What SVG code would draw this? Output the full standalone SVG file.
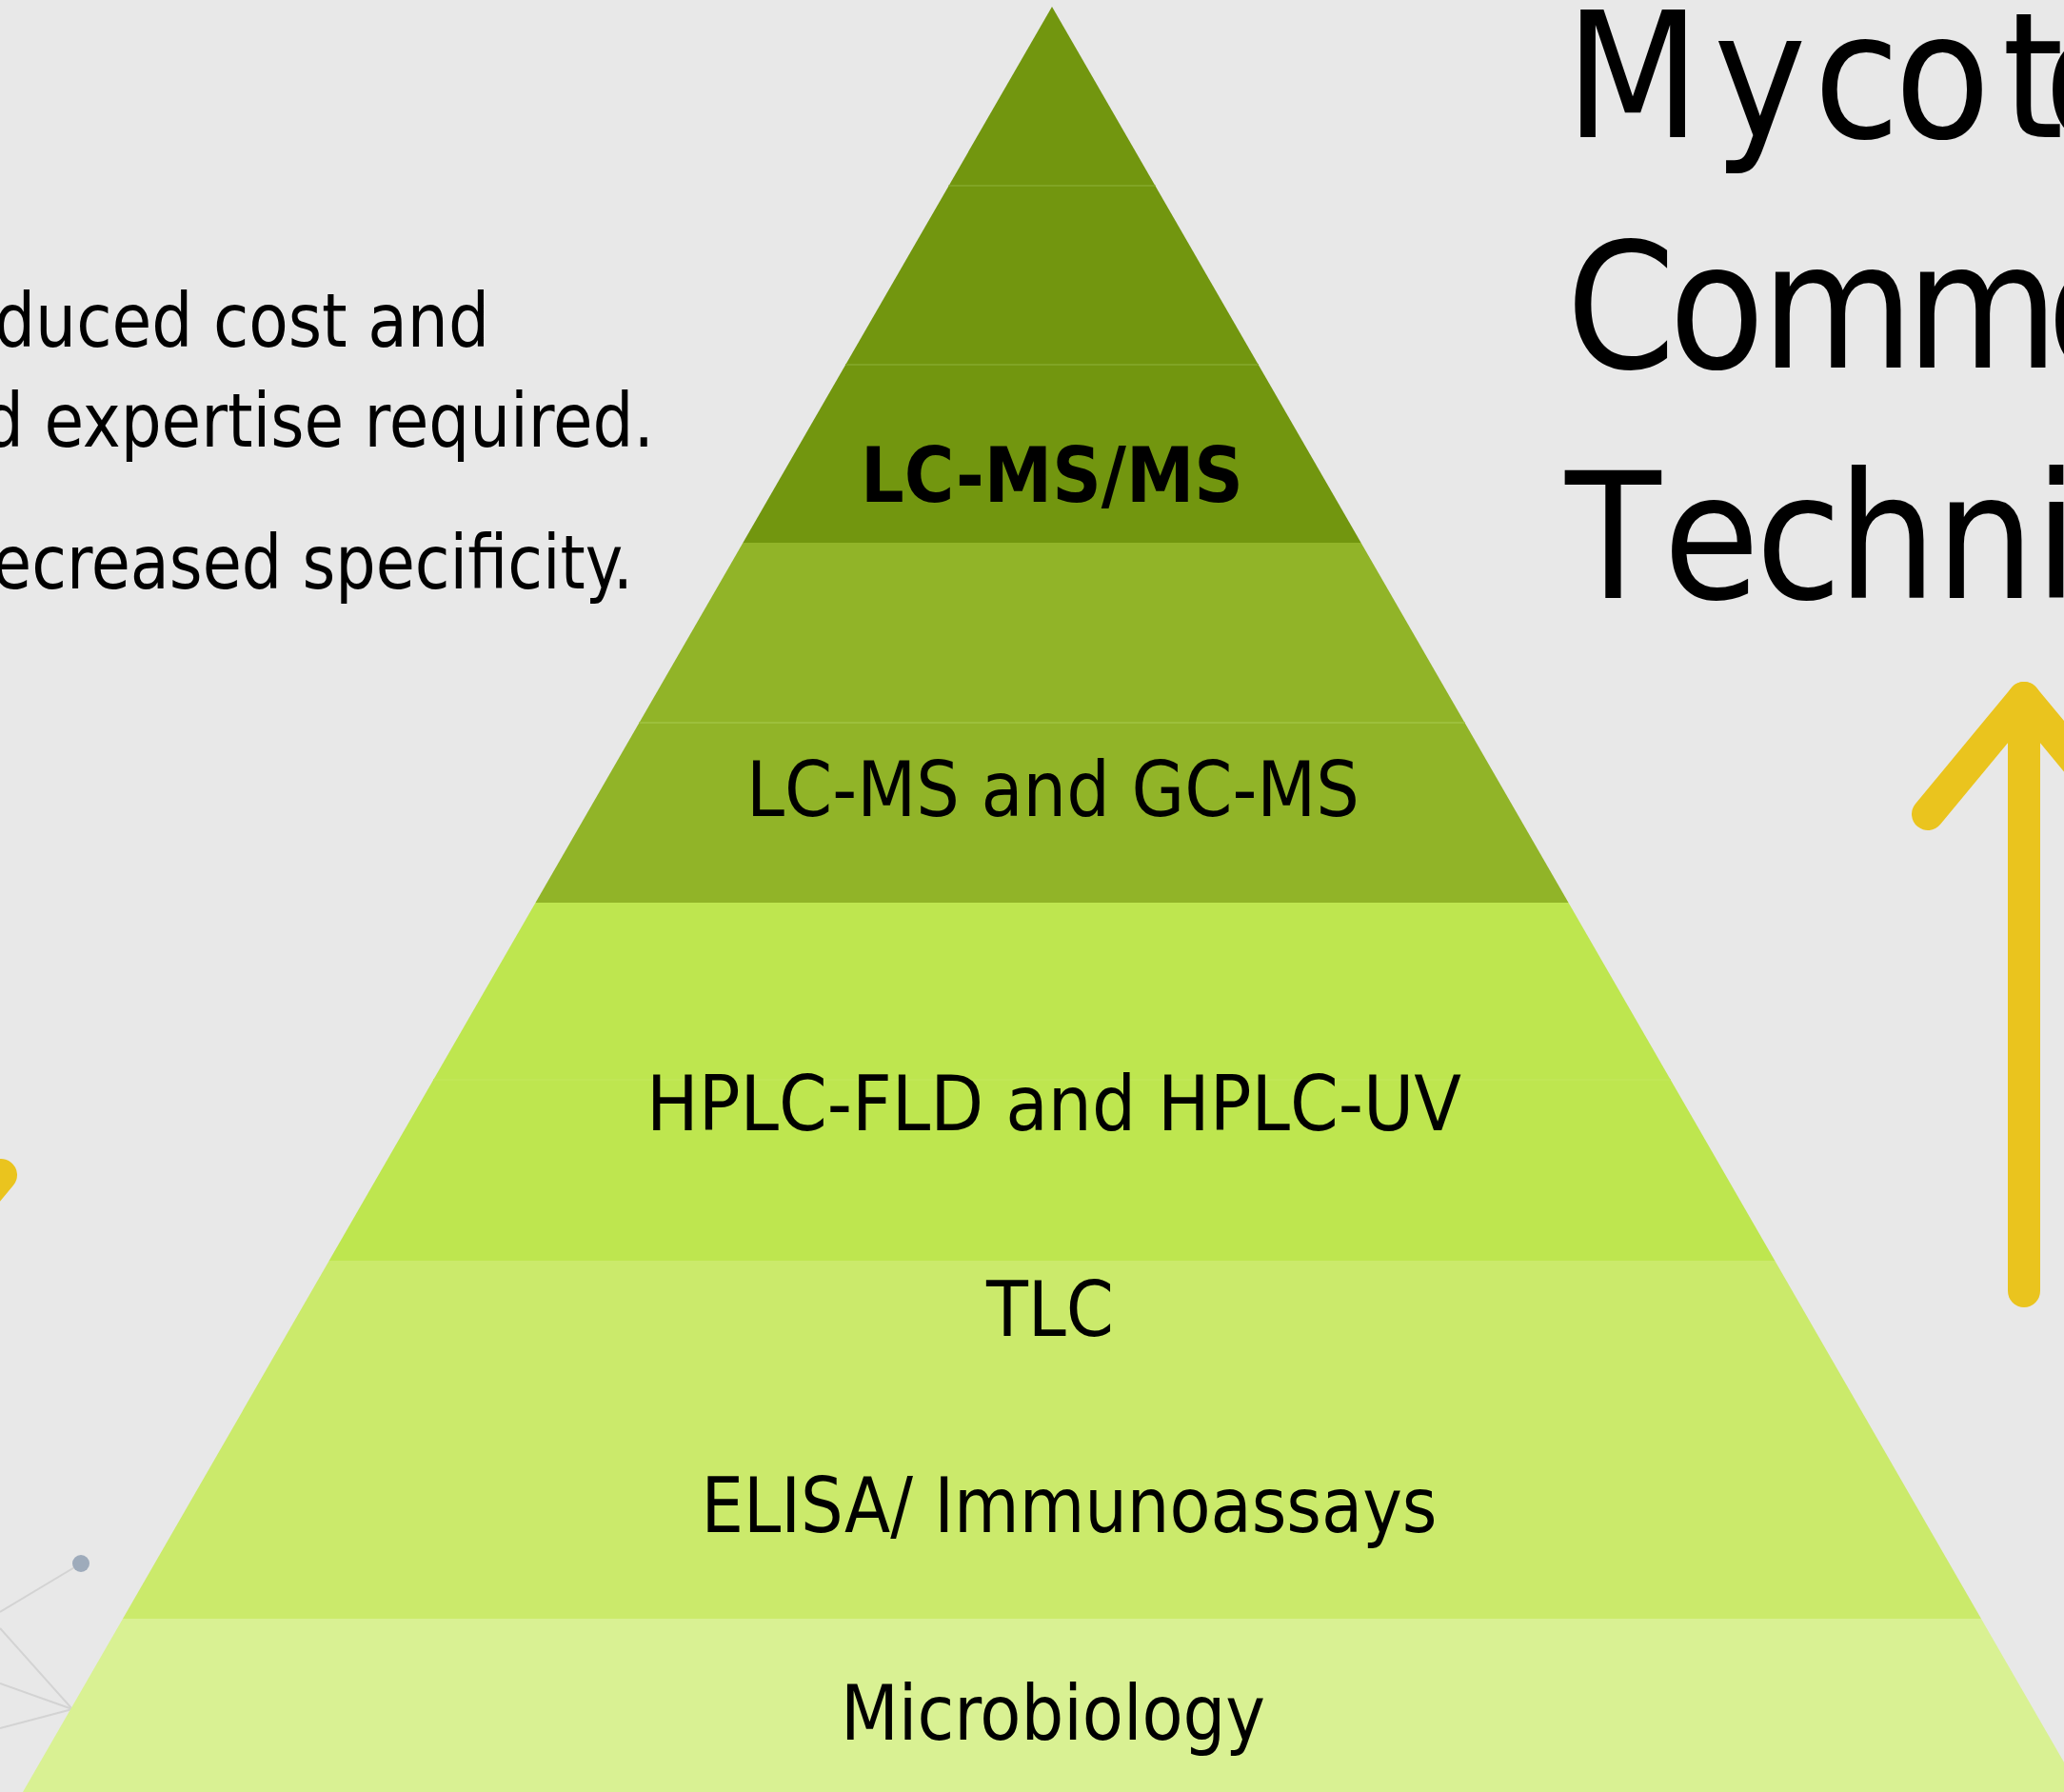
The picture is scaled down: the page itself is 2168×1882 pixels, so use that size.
<svg xmlns="http://www.w3.org/2000/svg" width="2168" height="1882" viewBox="0 0 2168 1882">
  <style>
    .lbl { font-family: 'DejaVu Sans Condensed', 'DejaVu Sans', sans-serif; font-stretch: condensed; font-size: 80px; fill: #000; }
    .side { font-family: 'DejaVu Sans Condensed', 'DejaVu Sans', sans-serif; font-stretch: condensed; font-size: 78px; fill: #000; }
    .title { font-family: 'DejaVu Sans Condensed', 'DejaVu Sans', sans-serif; font-stretch: condensed; font-size: 183px; fill: #000; }
    .net { stroke: #d3d3d3; stroke-width: 2; fill: none; }
    .yel { stroke: #eac41e; stroke-width: 34; stroke-linecap: round; stroke-linejoin: round; fill: none; }
    .sep { stroke-width: 2; }
  </style>
  <rect x="0" y="0" width="2168" height="1882" fill="#e8e8e8"/>

  <g id="network">
    <line class="net" x1="85" y1="1642" x2="0" y2="1693"/>
    <line class="net" x1="0" y1="1710" x2="76" y2="1795"/>
    <line class="net" x1="0" y1="1768" x2="76" y2="1795"/>
    <line class="net" x1="0" y1="1815" x2="76" y2="1795"/>
    <circle cx="85" cy="1642" r="9" fill="#9eabbb"/>
  </g>

  <g id="side-text">
    <text class="side" x="-6" y="364" textLength="520" lengthAdjust="spacingAndGlyphs">duced cost and</text>
    <text class="side" x="-18" y="469" textLength="705" lengthAdjust="spacingAndGlyphs">d expertise required.</text>
    <text class="side" x="-8" y="618" textLength="673" lengthAdjust="spacingAndGlyphs">ecreased specificity.</text>
  </g>

  <g id="title">
    <text class="title" x="1644 1800 1905 1990 2103 2147" y="144">Mycoto</text>
    <text class="title" x="1645 1753 1850 2002 2150" y="386">Commo</text>
    <text class="title" x="1644 1747 1844 1930 2033 2137" y="628">Techni</text>
  </g>

  <g id="band-lcmsms">
    <polygon points="1105,7 1429.6,570 780.4,570" fill="#72960f"/>
    <line class="sep" x1="996.6" y1="195" x2="1213.4" y2="195" stroke="#80a425"/>
    <line class="sep" x1="888.2" y1="383" x2="1321.8" y2="383" stroke="#80a425"/>
    <text class="lbl" x="1105" y="527" text-anchor="middle" font-weight="bold" textLength="402" lengthAdjust="spacingAndGlyphs">LC-MS/MS</text>
  </g>

  <g id="band-lcms-gcms">
    <polygon points="780.4,570 1429.6,570 1647.5,948 562.5,948" fill="#91b428"/>
    <line class="sep" x1="671.5" y1="759" x2="1538.5" y2="759" stroke="#9dc03c"/>
    <text class="lbl" x="1106" y="857" text-anchor="middle" textLength="644" lengthAdjust="spacingAndGlyphs">LC-MS and GC-MS</text>
  </g>

  <g id="band-hplc">
    <polygon points="562.5,948 1647.5,948 1864.3,1324 345.7,1324" fill="#bee64f"/>
    <line class="sep" x1="455.3" y1="1134" x2="1754.7" y2="1134" stroke="#c1e755"/>
    <text class="lbl" x="1107" y="1187" text-anchor="middle" textLength="856" lengthAdjust="spacingAndGlyphs">HPLC-FLD and HPLC-UV</text>
  </g>

  <g id="band-tlc-elisa">
    <polygon points="345.7,1324 1864.3,1324 2081,1700 129,1700" fill="#cbea6b"/>
    <text class="lbl" x="1103" y="1403" text-anchor="middle" textLength="134" lengthAdjust="spacingAndGlyphs">TLC</text>
    <text class="lbl" x="1123" y="1609" text-anchor="middle" textLength="773" lengthAdjust="spacingAndGlyphs">ELISA/ Immunoassays</text>
  </g>

  <g id="band-microbiology">
    <polygon points="129,1700 2081,1700 2186,1882 24,1882" fill="#d9f193"/>
    <text class="lbl" x="1106" y="1827" text-anchor="middle" textLength="446" lengthAdjust="spacingAndGlyphs">Microbiology</text>
  </g>

  <g id="connectors">
    <polyline class="yel" points="2025,855 2126,733 2227,855"/>
    <line class="yel" x1="2126" y1="733" x2="2126" y2="1356"/>
    <line class="yel" x1="1" y1="1234" x2="-100" y2="1356"/>
  </g>
</svg>
